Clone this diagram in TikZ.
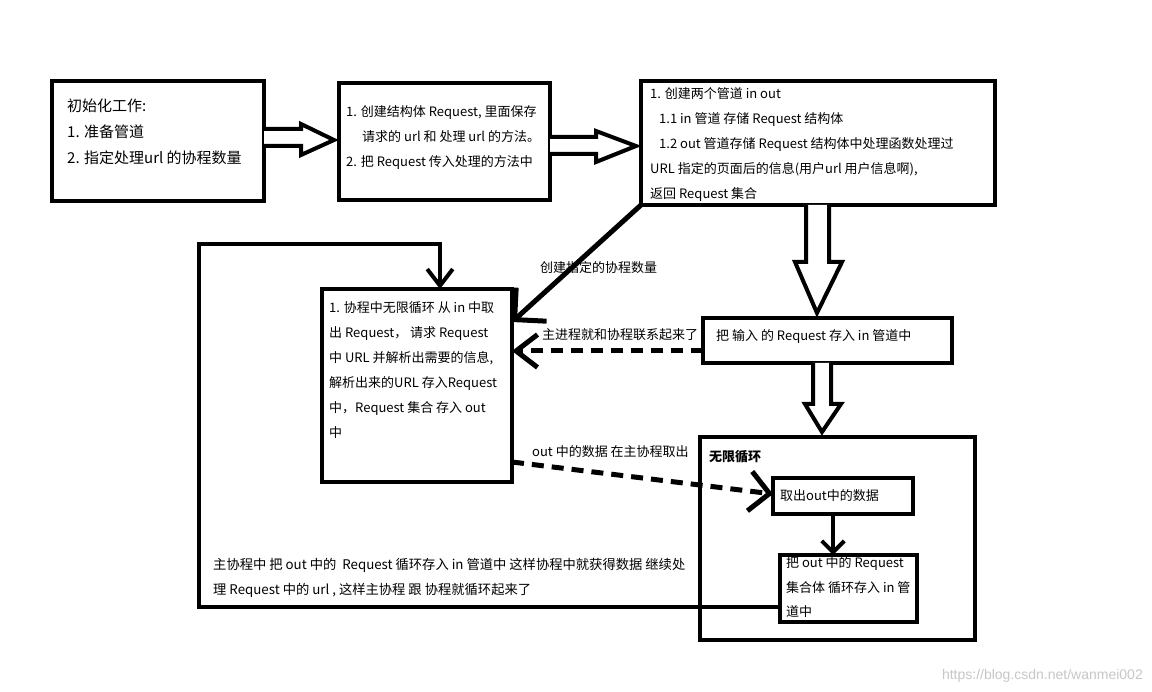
\documentclass[tikz,border=0pt]{standalone}
\usepackage{fontspec}
\setmainfont{Noto Sans CJK SC}
\newfontfamily\wmfont{Liberation Sans}
\usetikzlibrary{arrows.meta,calc}
\begin{document}
\begin{tikzpicture}[x=1pt,y=-1pt,
  box/.style 2 args={draw, line width=4.5pt, inner sep=0pt, outer sep=0pt, minimum width=#1, minimum height=#2},
  txt/.style={inner sep=0pt, anchor=west, align=left, font=\fontsize{13}{25}\selectfont},
  hollow/.style={draw, line width=4pt, fill=white, line join=miter},
  dashline/.style={line width=5pt, dash pattern=on 12pt off 8pt}]
\useasboundingbox (0,0) rectangle (1152,692);
\fill[white] (0,0) rectangle (1152,692);

% boxes
\node[box={212pt}{120pt}] (b1) at (158,141) {};
\node[box={211pt}{117pt}] (b2) at (444.5,141.5) {};
\node[box={354pt}{124pt}] (b3) at (818,143) {};
\node[box={190pt}{193pt}] (b4) at (417,385.5) {};
\node[box={249pt}{45pt}] (b5) at (827.5,340.5) {};
\node[box={275pt}{203pt}] (b6) at (837.5,538.5) {};
\node[box={140pt}{36pt}] (b7) at (843,496) {};
\node[box={137pt}{67pt}] (b8) at (848.5,588.5) {};

% texts
\node[txt, font=\fontsize{15}{26}\selectfont] (t1) at (67,132) {初始化工作:\\1. 准备管道\\2. 指定处理url 的协程数量};
\node[txt] (t2) at (346,137.5) {1. 创建结构体 Request, 里面保存\\\hspace*{16pt}请求的 url 和 处理 url 的方法。\\2. 把 Request 传入处理的方法中};
\node[txt] (t3) at (650,145) {1. 创建两个管道 in out\\\hspace*{9pt}1.1 in 管道 存储 Request 结构体\\\hspace*{9pt}1.2 out 管道存储 Request 结构体中处理函数处理过\\URL 指定的页面后的信息(用户url 用户信息啊),\\返回 Request 集合};
\node[txt] (t4) at (329,370.5) {1. 协程中无限循环 从 in 中取\\出 Request， 请求 Request\\中 URL 并解析出需要的信息,\\解析出来的URL 存入Request\\中，Request 集合 存入 out\\中};
\node[txt] (t5) at (716,337) {把 输入 的 Request 存入 in 管道中};
\node[txt, font=\fontsize{13}{25}\selectfont\bfseries] (t6) at (709,457) {无限循环};
\node[txt] (t7) at (780,496) {取出out中的数据};
\node[txt, font=\fontsize{13}{24.5}\selectfont] (t8) at (786,587.5) {把 out 中的 Request\\集合体 循环存入 in 管\\道中};
\node[txt, font=\fontsize{13.3}{25}\selectfont] (t9) at (213,577.5) {主协程中 把 out 中的 \ Request 循环存入 in 管道中 这样协程中就获得数据 继续处\\理 Request 中的 url , 这样主协程 跟 协程就循环起来了};
\node[txt] (l1) at (540,268) {创建指定的协程数量};
\node[txt] (l2) at (542,335) {主进程就和协程联系起来了};
\node[txt] (l3) at (532,452) {out 中的数据 在主协程取出};
\node[inner sep=0pt, anchor=east, text=black!22, font=\wmfont\fontsize{14}{14}\selectfont] (wm) at (1143,676) {https://blog.csdn.net/wanmei002};

% hollow arrows
\draw[hollow] (b1.east |- 0,129) -- (301,129) -- (301,124) -- ($(b2.west |- 0,140)+(-5,0)$) -- (301,155) -- (301,146) -- (b1.east |- 0,146);
\draw[hollow] (b2.east |- 0,137) -- (596,137) -- (596,131) -- ($(b3.west |- 0,146)+(-5,0)$) -- (596,162) -- (596,154) -- (b2.east |- 0,154);
\draw[hollow] (b3.south -| 806,0) -- (806,262) -- (795,262) -- ($(b5.north -| 817,0)+(0,-5)$) -- (842,262) -- (829,262) -- (b3.south -| 829,0);
\draw[hollow] (b5.south -| 813,0) -- (813,404) -- (805,404) -- ($(b6.north -| 822,0)+(0,-5)$) -- (841,404) -- (831,404) -- (b5.south -| 831,0);

% connectors
\draw[line width=5pt, -{Straight Barb[angle=90:32pt]}] (b3.south west) -- (b4.east |- 0,322);
\draw[dashline, -{Straight Barb[angle=75:27pt]}] (b5.west |- 0,351) -- (b4.east |- 0,351);
\draw[dashline, -{Straight Barb[angle=90:28pt]}] (b4.east |- 0,462) -- (b7.west |- 0,494);
\draw[line width=4pt, -{Straight Barb[angle=90:16pt]}] (b7.south -| 833,0) -- (b8.north -| 833,0);
\draw[line width=4pt, -{Straight Barb[angle=75:21pt]}] (b8.west |- 0,607) -| (199,244) -| (b4.north -| 440,0);
\end{tikzpicture}
\end{document}
